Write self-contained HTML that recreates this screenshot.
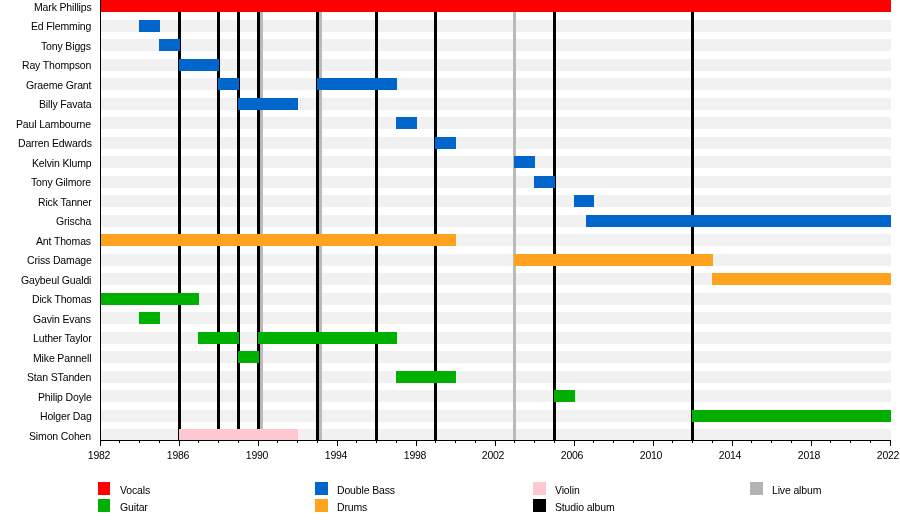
<!DOCTYPE html>
<html><head><meta charset="utf-8"><style>
html,body{margin:0;padding:0;background:#fff;}
body{width:900px;height:530px;position:relative;overflow:hidden;font-family:"Liberation Sans",sans-serif;font-size:10.50px;color:#000;}
div{position:absolute;}
.n,.t,.lg{will-change:transform;letter-spacing:-0.15px;}
.s{left:101.00px;width:790.00px;height:12.00px;background:#f1f1f1;}
.n{right:808.70px;white-space:nowrap;line-height:12px;height:12px;}
.t{letter-spacing:-0.25px;width:40px;text-align:center;line-height:12px;top:449px;}
.k{width:13px;height:13px;}
.lg{line-height:12px;white-space:nowrap;}
</style></head><body>
<div class="s" style="top:0.00px"></div>
<div class="s" style="top:20.00px"></div>
<div class="s" style="top:39.00px"></div>
<div class="s" style="top:59.00px"></div>
<div class="s" style="top:78.00px"></div>
<div class="s" style="top:98.00px"></div>
<div class="s" style="top:117.00px"></div>
<div class="s" style="top:137.00px"></div>
<div class="s" style="top:156.00px"></div>
<div class="s" style="top:176.00px"></div>
<div class="s" style="top:195.00px"></div>
<div class="s" style="top:215.00px"></div>
<div class="s" style="top:234.00px"></div>
<div class="s" style="top:254.00px"></div>
<div class="s" style="top:273.00px"></div>
<div class="s" style="top:293.00px"></div>
<div class="s" style="top:312.00px"></div>
<div class="s" style="top:332.00px"></div>
<div class="s" style="top:351.00px"></div>
<div class="s" style="top:371.00px"></div>
<div class="s" style="top:390.00px"></div>
<div class="s" style="top:410.00px"></div>
<div class="s" style="top:429.00px"></div>
<div style="left:260.00px;top:0;width:3px;height:440px;background:#bababa"></div>
<div style="left:319.00px;top:0;width:3px;height:440px;background:#bababa"></div>
<div style="left:513.00px;top:0;width:3px;height:440px;background:#bababa"></div>
<div style="left:178.00px;top:0;width:3px;height:440px;background:#000"></div>
<div style="left:217.00px;top:0;width:3px;height:440px;background:#000"></div>
<div style="left:237.00px;top:0;width:3px;height:440px;background:#000"></div>
<div style="left:257.00px;top:0;width:3px;height:440px;background:#000"></div>
<div style="left:316.00px;top:0;width:3px;height:440px;background:#000"></div>
<div style="left:375.00px;top:0;width:3px;height:440px;background:#000"></div>
<div style="left:434.00px;top:0;width:3px;height:440px;background:#000"></div>
<div style="left:553.00px;top:0;width:3px;height:440px;background:#000"></div>
<div style="left:691.00px;top:0;width:3px;height:440px;background:#000"></div>
<div style="left:100.00px;top:0.00px;width:791.00px;height:12.00px;background:#ff0000"></div>
<div style="left:139.00px;top:20.00px;width:21.00px;height:12.00px;background:#0066cc"></div>
<div style="left:159.00px;top:39.00px;width:21.00px;height:12.00px;background:#0066cc"></div>
<div style="left:179.00px;top:59.00px;width:40.00px;height:12.00px;background:#0066cc"></div>
<div style="left:218.00px;top:78.00px;width:21.00px;height:12.00px;background:#0066cc"></div>
<div style="left:317.00px;top:78.00px;width:80.00px;height:12.00px;background:#0066cc"></div>
<div style="left:238.00px;top:98.00px;width:60.00px;height:12.00px;background:#0066cc"></div>
<div style="left:396.00px;top:117.00px;width:21.00px;height:12.00px;background:#0066cc"></div>
<div style="left:435.00px;top:137.00px;width:21.00px;height:12.00px;background:#0066cc"></div>
<div style="left:514.00px;top:156.00px;width:21.00px;height:12.00px;background:#0066cc"></div>
<div style="left:534.00px;top:176.00px;width:21.00px;height:12.00px;background:#0066cc"></div>
<div style="left:574.00px;top:195.00px;width:20.00px;height:12.00px;background:#0066cc"></div>
<div style="left:586.00px;top:215.00px;width:305.00px;height:12.00px;background:#0066cc"></div>
<div style="left:100.00px;top:234.00px;width:356.00px;height:12.00px;background:#ffa31f"></div>
<div style="left:514.00px;top:254.00px;width:199.00px;height:12.00px;background:#ffa31f"></div>
<div style="left:712.00px;top:273.00px;width:179.00px;height:12.00px;background:#ffa31f"></div>
<div style="left:100.00px;top:293.00px;width:99.00px;height:12.00px;background:#00b000"></div>
<div style="left:139.00px;top:312.00px;width:21.00px;height:12.00px;background:#00b000"></div>
<div style="left:198.00px;top:332.00px;width:41.00px;height:12.00px;background:#00b000"></div>
<div style="left:258.00px;top:332.00px;width:139.00px;height:12.00px;background:#00b000"></div>
<div style="left:238.00px;top:351.00px;width:21.00px;height:12.00px;background:#00b000"></div>
<div style="left:396.00px;top:371.00px;width:60.00px;height:12.00px;background:#00b000"></div>
<div style="left:554.00px;top:390.00px;width:21.00px;height:12.00px;background:#00b000"></div>
<div style="left:692.00px;top:410.00px;width:199.00px;height:12.00px;background:#00b000"></div>
<div style="left:179.00px;top:429.00px;width:119.00px;height:12.00px;background:#ffc8d0"></div>
<div style="left:100.00px;top:0;width:1px;height:440px;background:#000"></div>
<div style="left:100.00px;top:440px;width:791.00px;height:1px;background:#000"></div>
<div style="left:100.00px;top:440px;width:1px;height:6px;background:#000"></div>
<div class="t" style="left:79.20px">1982</div>
<div style="left:119.00px;top:440px;width:1px;height:3px;background:#000"></div>
<div style="left:139.00px;top:440px;width:1px;height:3px;background:#000"></div>
<div style="left:159.00px;top:440px;width:1px;height:3px;background:#000"></div>
<div style="left:179.00px;top:440px;width:1px;height:6px;background:#000"></div>
<div class="t" style="left:158.20px">1986</div>
<div style="left:198.00px;top:440px;width:1px;height:3px;background:#000"></div>
<div style="left:218.00px;top:440px;width:1px;height:3px;background:#000"></div>
<div style="left:238.00px;top:440px;width:1px;height:3px;background:#000"></div>
<div style="left:258.00px;top:440px;width:1px;height:6px;background:#000"></div>
<div class="t" style="left:237.20px">1990</div>
<div style="left:277.00px;top:440px;width:1px;height:3px;background:#000"></div>
<div style="left:297.00px;top:440px;width:1px;height:3px;background:#000"></div>
<div style="left:317.00px;top:440px;width:1px;height:3px;background:#000"></div>
<div style="left:337.00px;top:440px;width:1px;height:6px;background:#000"></div>
<div class="t" style="left:316.20px">1994</div>
<div style="left:356.00px;top:440px;width:1px;height:3px;background:#000"></div>
<div style="left:376.00px;top:440px;width:1px;height:3px;background:#000"></div>
<div style="left:396.00px;top:440px;width:1px;height:3px;background:#000"></div>
<div style="left:416.00px;top:440px;width:1px;height:6px;background:#000"></div>
<div class="t" style="left:395.20px">1998</div>
<div style="left:435.00px;top:440px;width:1px;height:3px;background:#000"></div>
<div style="left:455.00px;top:440px;width:1px;height:3px;background:#000"></div>
<div style="left:475.00px;top:440px;width:1px;height:3px;background:#000"></div>
<div style="left:495.00px;top:440px;width:1px;height:6px;background:#000"></div>
<div class="t" style="left:472.60px">2002</div>
<div style="left:514.00px;top:440px;width:1px;height:3px;background:#000"></div>
<div style="left:534.00px;top:440px;width:1px;height:3px;background:#000"></div>
<div style="left:554.00px;top:440px;width:1px;height:3px;background:#000"></div>
<div style="left:574.00px;top:440px;width:1px;height:6px;background:#000"></div>
<div class="t" style="left:551.60px">2006</div>
<div style="left:593.00px;top:440px;width:1px;height:3px;background:#000"></div>
<div style="left:613.00px;top:440px;width:1px;height:3px;background:#000"></div>
<div style="left:633.00px;top:440px;width:1px;height:3px;background:#000"></div>
<div style="left:653.00px;top:440px;width:1px;height:6px;background:#000"></div>
<div class="t" style="left:630.60px">2010</div>
<div style="left:672.00px;top:440px;width:1px;height:3px;background:#000"></div>
<div style="left:692.00px;top:440px;width:1px;height:3px;background:#000"></div>
<div style="left:712.00px;top:440px;width:1px;height:3px;background:#000"></div>
<div style="left:732.00px;top:440px;width:1px;height:6px;background:#000"></div>
<div class="t" style="left:709.60px">2014</div>
<div style="left:751.00px;top:440px;width:1px;height:3px;background:#000"></div>
<div style="left:771.00px;top:440px;width:1px;height:3px;background:#000"></div>
<div style="left:791.00px;top:440px;width:1px;height:3px;background:#000"></div>
<div style="left:811.00px;top:440px;width:1px;height:6px;background:#000"></div>
<div class="t" style="left:788.60px">2018</div>
<div style="left:830.00px;top:440px;width:1px;height:3px;background:#000"></div>
<div style="left:850.00px;top:440px;width:1px;height:3px;background:#000"></div>
<div style="left:870.00px;top:440px;width:1px;height:3px;background:#000"></div>
<div style="left:890.00px;top:440px;width:1px;height:6px;background:#000"></div>
<div class="t" style="left:867.60px">2022</div>
<div class="n" style="top:1px">Mark Phillips</div>
<div class="n" style="top:20px">Ed Flemming</div>
<div class="n" style="top:40px">Tony Biggs</div>
<div class="n" style="top:59px">Ray Thompson</div>
<div class="n" style="top:79px">Graeme Grant</div>
<div class="n" style="top:98px">Billy Favata</div>
<div class="n" style="top:118px">Paul Lambourne</div>
<div class="n" style="top:137px">Darren Edwards</div>
<div class="n" style="top:157px">Kelvin Klump</div>
<div class="n" style="top:176px">Tony Gilmore</div>
<div class="n" style="top:196px">Rick Tanner</div>
<div class="n" style="top:215px">Grischa</div>
<div class="n" style="top:235px">Ant Thomas</div>
<div class="n" style="top:254px">Criss Damage</div>
<div class="n" style="top:274px">Gaybeul Gualdi</div>
<div class="n" style="top:293px">Dick Thomas</div>
<div class="n" style="top:313px">Gavin Evans</div>
<div class="n" style="top:332px">Luther Taylor</div>
<div class="n" style="top:352px">Mike Pannell</div>
<div class="n" style="top:371px">Stan STanden</div>
<div class="n" style="top:391px">Philip Doyle</div>
<div class="n" style="top:410px">Holger Dag</div>
<div class="n" style="top:430px">Simon Cohen</div>
<div class="k" style="left:98px;top:482px;background:#ff0000;width:12px"></div>
<div class="lg" style="left:120.2px;top:484px">Vocals</div>
<div class="k" style="left:98px;top:499px;background:#00b000;width:12px"></div>
<div class="lg" style="left:120.2px;top:501px">Guitar</div>
<div class="k" style="left:315px;top:482px;background:#0066cc"></div>
<div class="lg" style="left:336.6px;top:484px">Double Bass</div>
<div class="k" style="left:315px;top:499px;background:#ffa31f"></div>
<div class="lg" style="left:336.6px;top:501px">Drums</div>
<div class="k" style="left:533px;top:482px;background:#ffc8d0"></div>
<div class="lg" style="left:554.8px;top:484px">Violin</div>
<div class="k" style="left:533px;top:499px;background:#000000"></div>
<div class="lg" style="left:554.8px;top:501px">Studio album</div>
<div class="k" style="left:750px;top:482px;background:#b3b3b3"></div>
<div class="lg" style="left:772.3px;top:484px">Live album</div>
</body></html>
